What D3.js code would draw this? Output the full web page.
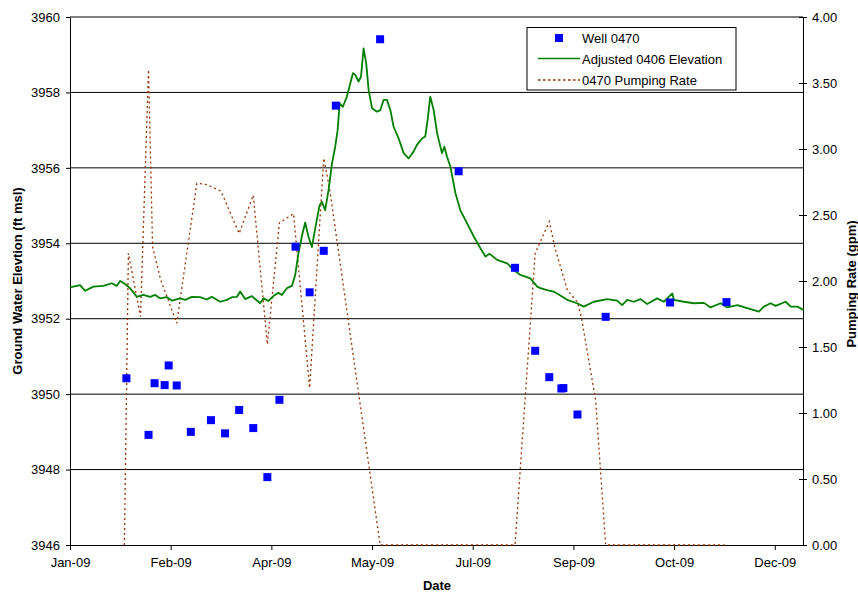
<!DOCTYPE html>
<html>
<head>
<meta charset="utf-8">
<script src="https://cdn.jsdelivr.net/npm/d3@7"></script>
<style>
  body { margin: 0; background: #fff; }
  text { font-family: "Liberation Sans", Arial, sans-serif; }
</style>
</head>
<body>
<svg id="chart" width="858" height="594"></svg>
<script>
// Axis ticks
const xTickDates = ["2009-01-01", "2009-02-20", "2009-04-11", "2009-05-31",
                    "2009-07-20", "2009-09-08", "2009-10-28", "2009-12-17"];
const elevTicks = [3946, 3948, 3950, 3952, 3954, 3956, 3958, 3960];
const rateTicks = [0, 0.5, 1, 1.5, 2, 2.5, 3, 3.5, 4];

// Well 0470 measured water levels (ft msl)
const wellDates = ["2009-01-29", "2009-02-09", "2009-02-12", "2009-02-17", "2009-02-19",
                   "2009-02-23", "2009-03-02", "2009-03-12", "2009-03-19", "2009-03-26",
                   "2009-04-02", "2009-04-09", "2009-04-15", "2009-04-23", "2009-04-30",
                   "2009-05-07", "2009-05-13", "2009-06-04", "2009-07-13", "2009-08-10",
                   "2009-08-20", "2009-08-27", "2009-09-02", "2009-09-03", "2009-09-10",
                   "2009-09-24", "2009-10-26", "2009-11-23"];
const wellElev = [3950.42, 3948.92, 3950.29, 3950.24, 3950.76,
                  3950.23, 3949.00, 3949.31, 3948.96, 3949.58,
                  3949.10, 3947.80, 3949.85, 3953.91, 3952.70,
                  3953.80, 3957.65, 3959.41, 3955.91, 3953.35,
                  3951.15, 3950.45, 3950.15, 3950.16, 3949.46,
                  3952.05, 3952.43, 3952.44];

// Adjusted 0406 transducer record: days since 2009-01-01 and elevation (ft msl)
const levelDays = [0, 5.0, 7.5, 11.6, 16.6, 20.7, 23.2, 24.9, 27.3, 29.8,
  33.2, 36.4, 39.8, 42.3, 44.7, 48.1, 50.6, 54.7, 57.2, 60.5,
  64.6, 67.9, 70.4, 74.6, 77.9, 80.4, 82.9, 84.5, 87.0, 90.3,
  94.4, 96.1, 98.6, 101.0, 103.5, 105.2, 107.7, 110.2, 111.8, 113.5,
  115.2, 116.8, 118.4, 120.1, 121.8, 123.9, 125.1, 126.7, 128.4, 130.1,
  131.7, 132.9, 133.9, 135.5, 137.5, 139.2, 140.5, 141.7, 143.3, 144.5,
  145.8, 147.1, 148.3, 150.0, 152.4, 154.1, 155.7, 157.4, 159.1, 160.7,
  163.2, 165.7, 168.1, 170.6, 172.3, 174.8, 176.4, 177.6, 178.9, 180.6,
  182.3, 184.7, 185.9, 187.2, 188.9, 191.4, 193.8, 197.2, 200.5, 203.8,
  206.3, 208.4, 212.1, 217.1, 220.3, 223.7, 228.6, 232.0, 233.6, 236.9,
  240.2, 241.9, 246.9, 251.8, 255.1, 260.1, 266.8, 271.7, 274.2, 276.7,
  280.0, 283.3, 286.6, 291.6, 294.9, 299.1, 299.9, 304.8, 309.8, 314.8,
  318.1, 323.1, 326.4, 331.4, 336.3, 342.1, 344.6, 347.9, 350.4, 355.4,
  357.9, 361.2, 364.3];
const levelElev = [3952.83, 3952.89, 3952.74, 3952.85, 3952.87, 3952.94, 3952.87, 3953.00, 3952.92, 3952.81,
  3952.58, 3952.63, 3952.58, 3952.63, 3952.54, 3952.57, 3952.48, 3952.54, 3952.50, 3952.58,
  3952.57, 3952.51, 3952.58, 3952.45, 3952.50, 3952.57, 3952.58, 3952.72, 3952.52, 3952.60,
  3952.41, 3952.54, 3952.47, 3952.60, 3952.69, 3952.63, 3952.81, 3952.87, 3953.15, 3953.75,
  3954.20, 3954.55, 3954.18, 3953.90, 3954.40, 3955.00, 3955.10, 3954.88, 3955.41, 3956.12,
  3956.56, 3957.00, 3957.71, 3957.62, 3957.89, 3958.24, 3958.51, 3958.46, 3958.29, 3958.42,
  3959.17, 3958.77, 3958.06, 3957.58, 3957.49, 3957.53, 3957.80, 3957.80, 3957.53, 3957.09,
  3956.78, 3956.39, 3956.25, 3956.43, 3956.61, 3956.78, 3956.83, 3957.27, 3957.89, 3957.53,
  3956.92, 3956.39, 3956.56, 3956.30, 3956.03, 3955.33, 3954.88, 3954.53, 3954.18, 3953.87,
  3953.65, 3953.72, 3953.56, 3953.47, 3953.29, 3953.16, 3953.07, 3952.85, 3952.81, 3952.76,
  3952.72, 3952.67, 3952.50, 3952.41, 3952.32, 3952.45, 3952.52, 3952.48, 3952.36, 3952.50,
  3952.45, 3952.52, 3952.39, 3952.54, 3952.45, 3952.67, 3952.50, 3952.45, 3952.41, 3952.42,
  3952.30, 3952.41, 3952.30, 3952.36, 3952.28, 3952.19, 3952.32, 3952.41, 3952.34, 3952.45,
  3952.32, 3952.32, 3952.23];

// Well 0470 pumping rate (gpm)
const pumpDates = ["2009-01-28", "2009-01-30", "2009-02-05", "2009-02-09", "2009-02-11",
                   "2009-02-15", "2009-02-23", "2009-03-05", "2009-03-10", "2009-03-17",
                   "2009-03-26", "2009-04-02", "2009-04-09", "2009-04-15", "2009-04-22",
                   "2009-04-30", "2009-05-07", "2009-05-10", "2009-06-04", "2009-08-10",
                   "2009-08-20", "2009-08-27", "2009-08-30", "2009-09-05", "2009-09-10",
                   "2009-09-12", "2009-09-19", "2009-09-24", "2009-11-22"];
const pumpRate = [0, 2.21, 1.73, 3.60, 2.26,
                  2.01, 1.68, 2.74, 2.73, 2.68,
                  2.36, 2.65, 1.52, 2.44, 2.51,
                  1.19, 2.93, 2.69, 0, 0,
                  2.21, 2.45, 2.24, 1.93, 1.84,
                  1.72, 1.10, 0, 0];

const parse = d3.utcParse("%Y-%m-%d");
const start = parse("2009-01-01");
const dayMs = 86400000;

const well = wellDates.map((d, i) => ({ date: parse(d), v: wellElev[i] }));
const level = levelDays.map((d, i) => ({ date: new Date(+start + d * dayMs), v: levelElev[i] }));
const pump = pumpDates.map((d, i) => ({ date: parse(d), v: pumpRate[i] }));

const plotLeft = 70, plotRight = 803, plotTop = 17, plotBottom = 545;

const x = d3.scaleUtc().domain([start, parse("2009-12-31")]).range([plotLeft, plotRight]);
const y = d3.scaleLinear().domain([3946, 3960]).range([plotBottom, plotTop]);
const y2 = d3.scaleLinear().domain([0, 4]).range([plotBottom, plotTop]);

const svg = d3.select("#chart");

// horizontal gridlines
svg.append("g").selectAll("line").data(elevTicks.slice(1)).join("line")
  .attr("x1", plotLeft).attr("x2", plotRight)
  .attr("y1", d => y(d)).attr("y2", d => y(d))
  .attr("stroke", "#000").attr("stroke-width", 1);

// left axis
const gy = svg.append("g").attr("transform", `translate(${plotLeft},0)`)
  .call(d3.axisLeft(y).tickValues(elevTicks).tickFormat(d3.format("d")).tickSize(4).tickPadding(6).tickSizeOuter(0));
gy.select(".domain").attr("stroke", "#000");
gy.selectAll("text").attr("font-size", 13).attr("fill", "#000");

// right axis
const gy2 = svg.append("g").attr("transform", `translate(${plotRight},0)`)
  .call(d3.axisRight(y2).tickValues(rateTicks).tickFormat(d3.format(".2f")).tickSize(4).tickPadding(5).tickSizeOuter(0));
gy2.selectAll(".tick line").attr("x1", -4);
gy2.selectAll("text").attr("font-size", 13).attr("fill", "#000");

// bottom axis
const gx = svg.append("g").attr("transform", `translate(0,${plotBottom})`)
  .call(d3.axisBottom(x).tickValues(xTickDates.map(parse)).tickFormat(d3.utcFormat("%b-%y")).tickSize(5).tickPadding(8).tickSizeOuter(0));
gx.selectAll("text").attr("font-size", 13).attr("fill", "#000");

// pumping rate (right axis)
svg.append("path").datum(pump)
  .attr("fill", "none").attr("stroke", "#993300").attr("stroke-width", 1.3)
  .attr("stroke-dasharray", "2,3")
  .attr("d", d3.line().x(d => x(d.date)).y(d => y2(d.v)));

// adjusted elevation
svg.append("path").datum(level)
  .attr("fill", "none").attr("stroke", "#008000").attr("stroke-width", 1.8)
  .attr("stroke-linejoin", "round")
  .attr("d", d3.line().x(d => x(d.date)).y(d => y(d.v)));

// well measurements
svg.append("g").selectAll("rect").data(well).join("rect")
  .attr("x", d => x(d.date) - 4).attr("y", d => y(d.v) - 4)
  .attr("width", 8).attr("height", 8).attr("fill", "#0000ff");

// axis titles
svg.append("text").attr("transform", "translate(22,281) rotate(-90)")
  .attr("text-anchor", "middle").attr("font-size", 13).attr("font-weight", "bold")
  .text("Ground Water Elevtion (ft msl)");
svg.append("text").attr("transform", "translate(856,284) rotate(-90)")
  .attr("text-anchor", "middle").attr("font-size", 13).attr("font-weight", "bold")
  .text("Pumping Rate (gpm)");
svg.append("text").attr("x", 437).attr("y", 590)
  .attr("text-anchor", "middle").attr("font-size", 13).attr("font-weight", "bold")
  .text("Date");

// legend
const lg = svg.append("g");
lg.append("rect").attr("x", 527).attr("y", 27.5).attr("width", 209).attr("height", 62.5)
  .attr("fill", "#fff").attr("stroke", "#000").attr("stroke-width", 1);
lg.append("rect").attr("x", 555).attr("y", 34).attr("width", 8).attr("height", 8).attr("fill", "#0000ff");
lg.append("line").attr("x1", 538).attr("x2", 580).attr("y1", 58.5).attr("y2", 58.5)
  .attr("stroke", "#008000").attr("stroke-width", 1.6);
lg.append("line").attr("x1", 538).attr("x2", 580).attr("y1", 80).attr("y2", 80)
  .attr("stroke", "#993300").attr("stroke-width", 1.6).attr("stroke-dasharray", "2.5,2.5");
const legendLabels = ["Well 0470", "Adjusted 0406 Elevation", "0470 Pumping Rate"];
lg.selectAll("text.lbl").data(legendLabels).join("text").attr("class", "lbl")
  .attr("x", 582).attr("y", (d, i) => 43 + i * 21)
  .attr("font-size", 13).text(d => d);
</script>
</body>
</html>
